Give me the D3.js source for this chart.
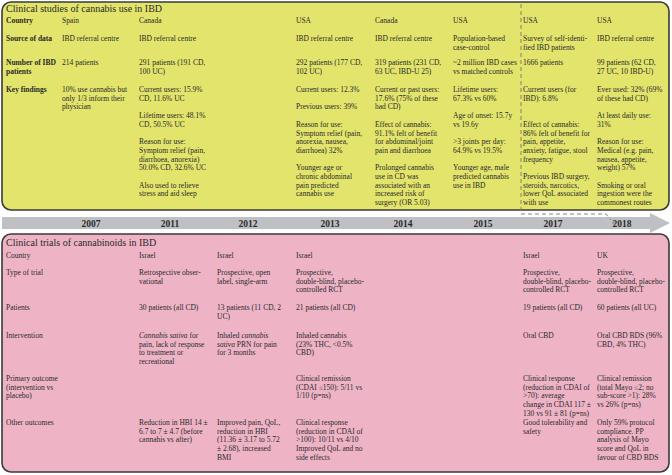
<!DOCTYPE html>
<html><head><meta charset="utf-8">
<script src="https://cdn.jsdelivr.net/npm/d3@7"></script>
<style>body{margin:0;background:#fff}text{font-family:"Liberation Serif","DejaVu Serif",serif;fill:#2a2a2a}</style>
</head><body><svg id="c" width="672" height="475"></svg>
<script>
// ---- data ----
const years = ["2007","2011","2012","2013","2014","2015","2017","2018"];
const studyTitle = "Clinical studies of cannabis use in IBD";
const studyRowLabels = [["Country"],["Source of data"],["Number of IBD","patients"],["Key findings"]];
const studyCountry = ["Spain","Canada","USA","Canada","USA","USA","USA"];
const studySource = [["IBD referral centre"],["IBD referral centre"],["IBD referral centre"],["IBD referral centre"],["Population-based","case-control"],["Survey of self-identi-","fied IBD patients"],["IBD referral centre"]];
const studyNumber = [["214 patients"],["291 patients (191 CD,","100 UC)"],["292 patients (177 CD,","102 UC)"],["319 patients (231 CD,","63 UC, IBD-U 25)"],["~2 million IBD cases","vs matched controls"],["1666 patients"],["99 patients (62 CD,","27 UC, 10 IBD-U)"]];
const studyFindings = [
 ["10% use cannabis but","only 1/3 inform their","physician"],
 ["Current users: 15.9%","CD, 11.6% UC","","Lifetime users: 48.1%","CD, 50.5% UC","","Reason for use:","Symptom relief (pain,","diarrhoea, anorexia)","50.0% CD, 32.6% UC","","Also used to relieve","stress and aid sleep"],
 ["Current users: 12.3%","","Previous users: 39%","","Reason for use:","Symptom relief (pain,","anorexia, nausea,","diarrhoea) 32%","","Younger age or","chronic abdominal","pain predicted","cannabis use"],
 ["Current or past users:","17.6% (75% of these","had CD)","","Effect of cannabis:","91.1% felt of benefit","for abdominal/joint","pain and diarrhoea","","Prolonged cannabis","use in CD was","associated with an","increased risk of","surgery (OR 5.03)"],
 ["Lifetime users:","67.3% vs 60%","","Age of onset: 15.7y","vs 19.6y","","\u003e3 joints per day:","64.9% vs 19.5%","","Younger age, male","predicted cannabis","use in IBD"],
 ["Current users (for","IBD): 6.8%","","","Effect of cannabis:","86% felt of benefit for","pain, appetite,","anxiety, fatigue, stool","frequency","","Previous IBD surgery,","steroids, narcotics,","lower QoL associated","with use"],
 ["Ever used: 32% (69%","of these had CD)","","At least daily use:","31%","","Reason for use:","Medical (e.g. pain,","nausea, appetite,","weight) 57%","","Smoking or oral","ingestion were the","commonest routes"]
];
const trialTitle = "Clinical trials of cannabinoids in IBD";
const trialRowLabels = [["Country"],["Type of trial"],["Patients"],["Intervention"],["Primary outcome","(intervention vs","placebo)"],["Other outcomes"]];
const trialCountry = ["Israel","Israel","Israel","Israel","UK"];
const trialType = [["Retrospective obser-","vational"],["Prospective, open","label, single-arm"],["Prospective,","double-blind, placebo-","controlled RCT"],["Prospective,","double-blind, placebo-","controlled RCT"],["Prospective,","double-blind, placebo-","controlled RCT"]];
const trialPatients = [["30 patients (all CD)"],["13 patients (11 CD, 2","UC)"],["21 patients (all CD)"],["19 patients (all CD)"],["60 patients (all UC)"]];
const trialIntervention = [["*Cannabis sativa* for","pain, lack of response","to treatment or","recreational"],["Inhaled *cannabis*","*sativa* PRN for pain","for 3 months"],["Inhaled cannabis","(23% THC, <0.5%","CBD)"],["Oral CBD"],["Oral CBD BDS (96%","CBD, 4% THC)"]];
const trialPrimary = [[],[],["Clinical remission","(CDAI ≤150): 5/11 vs","1/10 (p=ns)"],["Clinical response","(reduction in CDAI of","\u003e70): average","change in CDAI 117 ±","130 vs 91 ± 81 (p=ns)"],["Clinical remission","(total Mayo ≤2; no","sub-score \u003e1): 28%","vs 26% (p=ns)"]];
const trialOther = [["Reduction in HBI 14 ±","6.7 to 7 ± 4.7 (before","cannabis vs after)"],["Improved pain, QoL,","reduction in HBI","(11.36 ± 3.17 to 5.72","± 2.68), increased","BMI"],["Clinical response","(reduction in CDAI of","\u003e100): 10/11 vs 4/10","Improved QoL and no","side effects"],["Good tolerability and","safety"],["Only 59% protocol","compliance. PP","analysis of Mayo","score and QoL in","favour of CBD BDS"]];

// ---- layout ----
const svg = d3.select("#c");
const LH = 8.7, FS = 7.5;
const studyX = d3.scaleOrdinal().domain(d3.range(7)).range([62,139,296,375,453,523,597]);
const trialX = d3.scaleOrdinal().domain(d3.range(5)).range([139,217,296,523,597]);
const yearX = d3.scaleOrdinal().domain(years).range([91,170,248,330,403,483,553,622]);

function box(y0,y1,fill){
  svg.append("rect").attr("x",2).attr("y",y0).attr("width",667).attr("height",y1-y0)
    .attr("rx",9).attr("fill",fill).attr("stroke","#3a3a3a").attr("stroke-width",1.6);
}
function lines2(x,y,arr,bold){
  arr.forEach((ln,i)=>{
    const t = svg.append("text").attr("font-size",FS).attr("x",x).attr("y",y+i*LH);
    if(bold) t.attr("font-weight","bold");
    ln.split("*").forEach((p,j)=>{ if(p) t.append("tspan").text(p).attr("font-style", j%2?"italic":null); });
  });
}

// top box
box(2,210,"#e2e46c");
svg.append("text").attr("x",6).attr("y",12).attr("font-size",10).text(studyTitle);
const sRowY = [23,41,65,92];
studyRowLabels.forEach((l,i)=>lines2(6,sRowY[i],l,true));
studyCountry.forEach((c,i)=>lines2(studyX(i),sRowY[0],[c]));
studySource.forEach((c,i)=>lines2(studyX(i),sRowY[1],c));
studyNumber.forEach((c,i)=>lines2(studyX(i),sRowY[2],c));
studyFindings.forEach((c,i)=>lines2(studyX(i),sRowY[3],c));

// arrow band
const band = d3.path();
band.moveTo(2,217); band.lineTo(650,217); band.lineTo(650,213); band.lineTo(670,223);
band.lineTo(650,233); band.lineTo(650,229); band.lineTo(2,229); band.closePath();
svg.append("path").attr("d",band.toString()).attr("fill","#bfc0c3");
svg.selectAll(".yr").data(years).join("text").attr("x",d=>yearX(d)).attr("y",227)
  .attr("text-anchor","middle").attr("font-size",9.5).attr("font-weight","bold").attr("fill","#333").text(d=>d);

// dashed marker
svg.append("path").attr("d","M521,4 L521,214 L606,214 L611,220 M612,223 L616,223")
  .attr("fill","none").attr("stroke","#777").attr("stroke-width",0.9).attr("stroke-dasharray","4,3");

// bottom box
box(234,472,"#eeb4c6");
svg.append("text").attr("x",6).attr("y",246).attr("font-size",10).text(trialTitle);
const tRowY = [258,275,310,338,381,425];
trialRowLabels.forEach((l,i)=>lines2(6,tRowY[i],l));
trialCountry.forEach((c,i)=>lines2(trialX(i),tRowY[0],[c]));
trialType.forEach((c,i)=>lines2(trialX(i),tRowY[1],c));
trialPatients.forEach((c,i)=>lines2(trialX(i),tRowY[2],c));
trialIntervention.forEach((c,i)=>lines2(trialX(i),tRowY[3],c));
trialPrimary.forEach((c,i)=>lines2(trialX(i),tRowY[4],c));
trialOther.forEach((c,i)=>lines2(trialX(i),tRowY[5],c));
</script></body></html>
